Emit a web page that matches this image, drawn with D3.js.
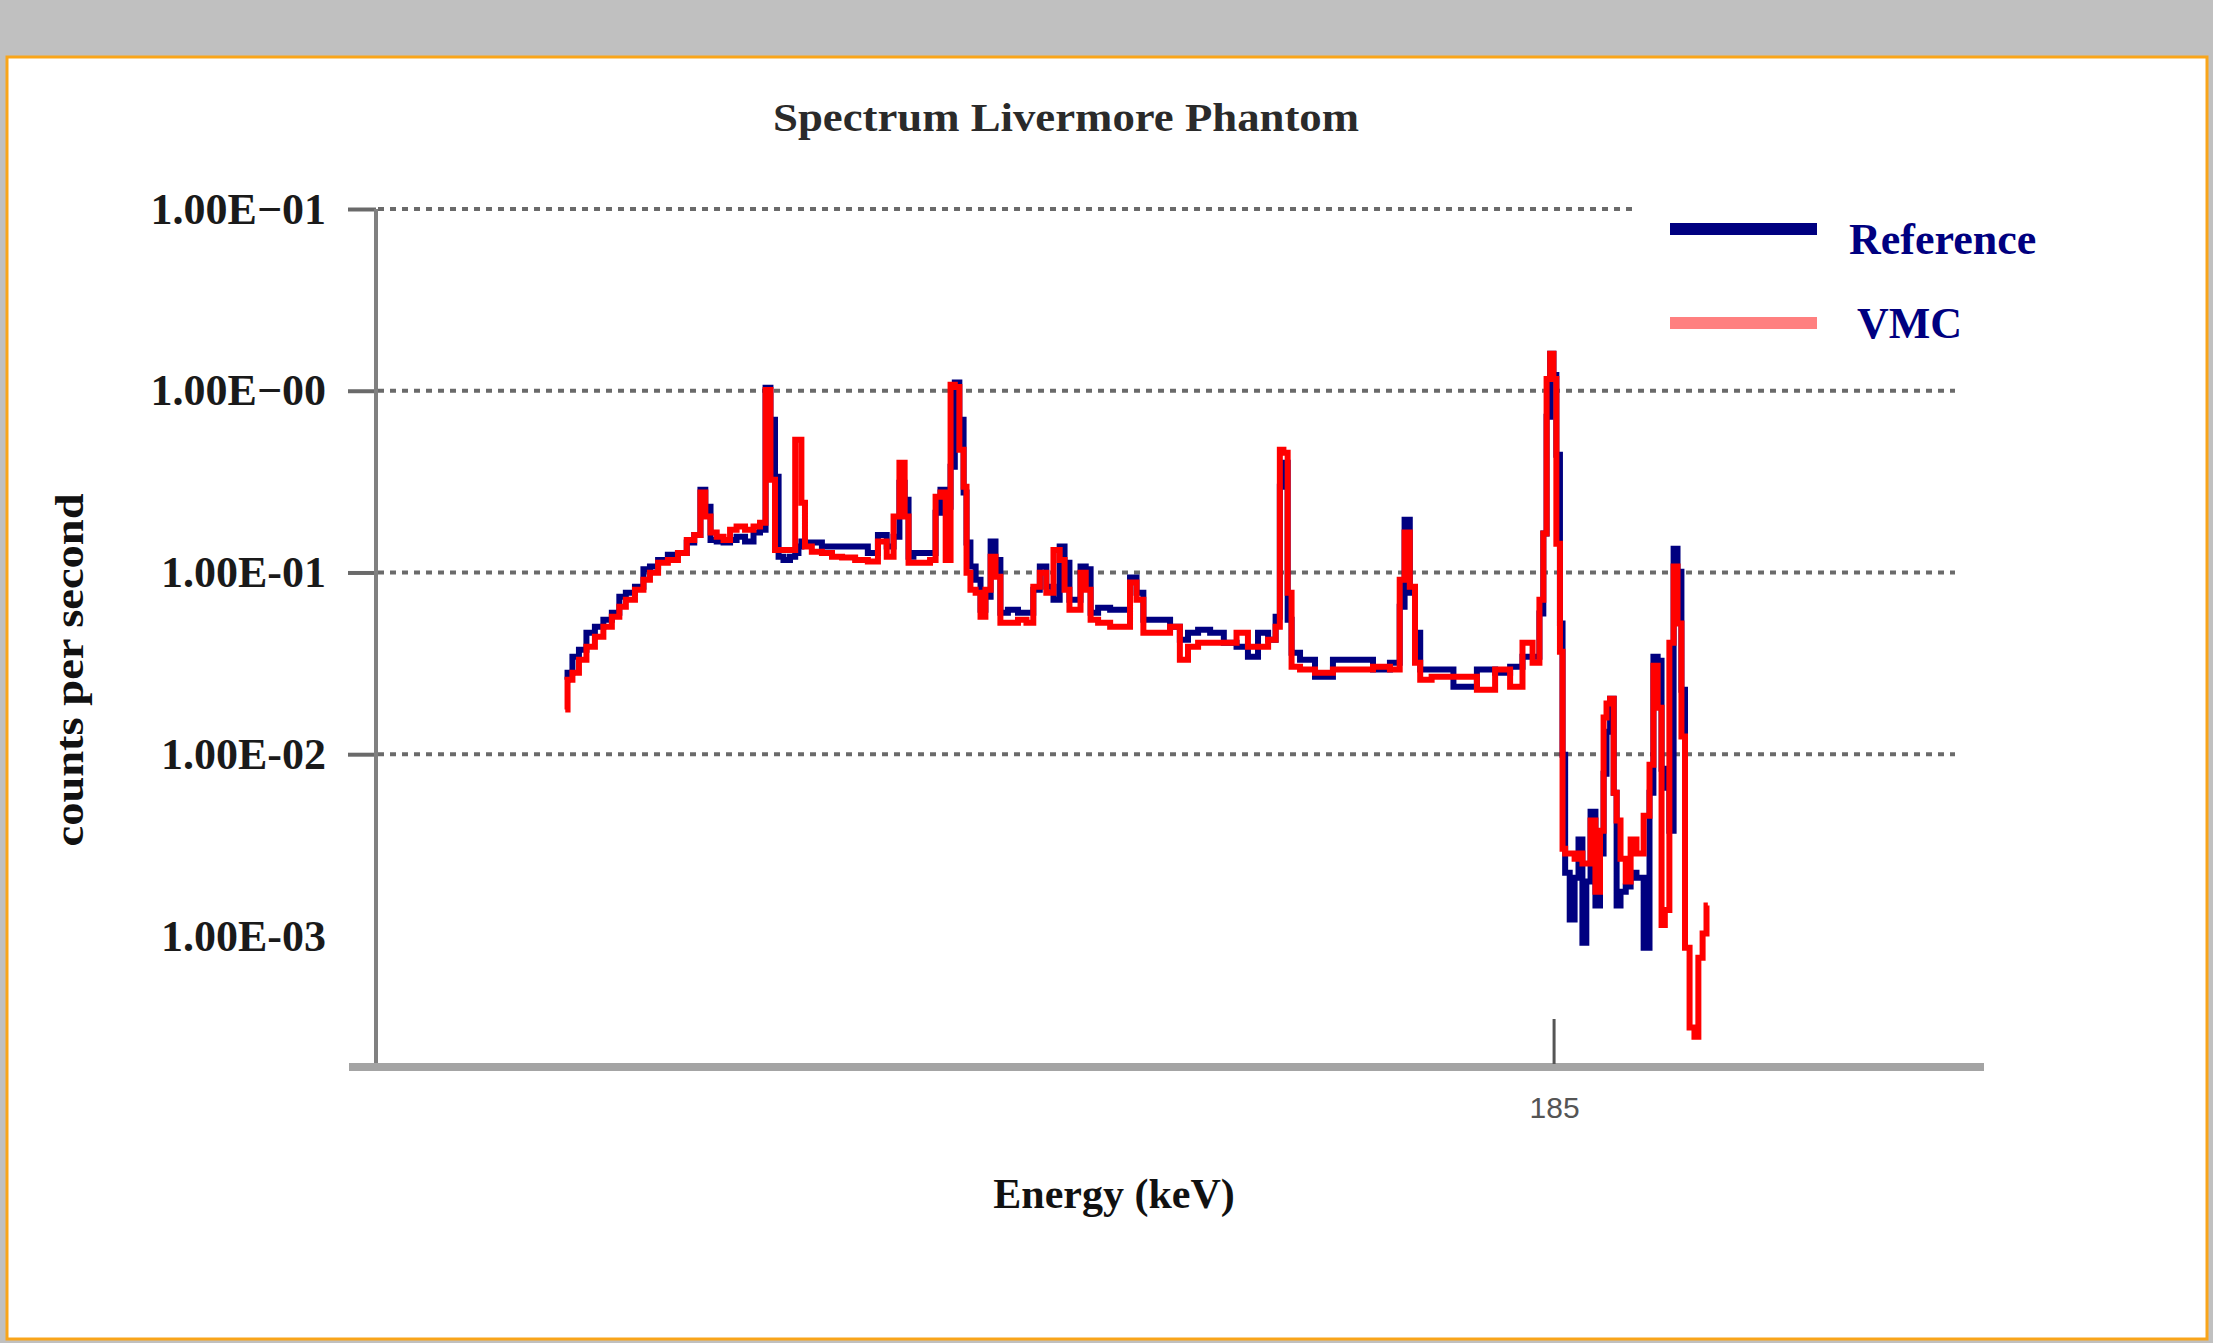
<!DOCTYPE html>
<html>
<head>
<meta charset="utf-8">
<script src="https://cdn.jsdelivr.net/npm/d3@7"></script>
<style>
  body { margin: 0; background: #c0c0c0; }
  svg { display: block; }
  .serif { font-family: "Liberation Serif", "Times New Roman", serif; font-weight: bold; }
</style>
</head>
<body>
<svg id="chart" width="2213" height="1343"></svg>
<script>
// energy (keV) of each sampled channel
const energy = [
  33.2, 33.9, 34.7, 35.9, 37.0, 38.5, 39.6, 41.1, 41.9, 43.1, 44.7, 45.7, 46.7, 48.2, 49.7, 51.3,
  52.4, 53.6, 54.3, 55.1, 55.9, 57.0, 58.0, 59.0, 60.0, 61.6, 62.6, 63.6, 64.3, 65.1, 65.7, 66.2,
  67.2, 68.2, 68.8, 69.2, 69.7, 70.3, 71.8, 73.4, 74.9, 76.5, 78.9, 80.4, 82.0, 83.1, 84.1, 84.9,
  85.7, 86.1, 87.2, 88.7, 89.7, 90.4, 91.2, 92.0, 92.7, 93.3, 94.1, 94.6, 95.0, 95.8, 96.6, 97.3,
  98.1, 98.9, 99.6, 100.4, 101.9, 103.5, 104.5, 105.6, 106.5, 107.6, 108.7, 109.5, 110.2, 111.0, 111.9, 112.7,
  113.5, 114.2, 115.8, 117.9, 119.4, 120.4, 121.4, 122.5, 125.0, 127.1, 128.0, 129.6, 131.1, 133.3, 135.3, 137.2,
  138.8, 140.3, 141.9, 142.6, 143.2, 143.7, 144.5, 144.9, 147.1, 149.5, 152.6, 155.7, 158.7, 160.9, 161.7, 162.4,
  163.3, 164.0, 164.9, 167.5, 171.6, 174.7, 177.2, 179.3, 181.0, 182.4, 183.1, 183.6, 184.1, 184.7, 185.1, 185.6,
  186.2, 186.4, 187.0, 187.8, 188.5, 189.0, 189.7, 190.2, 191.0, 191.7, 192.4, 192.8, 193.3, 193.9, 194.4, 194.8,
  195.6, 196.4, 197.1, 198.2, 199.3, 200.0, 200.5, 201.3, 201.7, 202.3, 203.1, 203.6, 204.3, 204.8, 205.4, 206.2,
  206.9, 207.4, 208.2, 208.6
];

// counts per second, measured reference spectrum
const reference = [
  0.0257, 0.0281, 0.0344, 0.0376, 0.0466, 0.0503, 0.0550, 0.0601, 0.0736, 0.0774, 0.0835, 0.104, 0.108, 0.117, 0.125, 0.128,
  0.146, 0.161, 0.285, 0.230, 0.151, 0.148, 0.146, 0.151, 0.157, 0.148, 0.166, 0.172, 1.04, 0.692, 0.336, 0.122,
  0.117, 0.122, 0.128, 0.139, 0.148, 0.146, 0.146, 0.139, 0.139, 0.139, 0.139, 0.128, 0.161, 0.139, 0.157, 0.312,
  0.251, 0.122, 0.128, 0.128, 0.128, 0.213, 0.285, 0.230, 0.382, 1.11, 0.692, 0.275, 0.146, 0.108, 0.0912, 0.0624,
  0.0736, 0.148, 0.117, 0.0601, 0.0624, 0.0601, 0.0601, 0.0804, 0.108, 0.0835, 0.0708, 0.139, 0.113, 0.0708, 0.0708, 0.108,
  0.104, 0.0601, 0.0640, 0.0624, 0.0624, 0.0937, 0.0774, 0.0550, 0.0550, 0.0503, 0.0427, 0.0466, 0.0484, 0.0466, 0.0411, 0.0390,
  0.0344, 0.0466, 0.0427, 0.0571, 0.296, 0.402, 0.0550, 0.0362, 0.0331, 0.0267, 0.0331, 0.0331, 0.0292, 0.0319, 0.0648, 0.195,
  0.0774, 0.0466, 0.0292, 0.0292, 0.0235, 0.0292, 0.0281, 0.0303, 0.0344, 0.0344, 0.0594, 0.164, 0.719, 1.60, 1.22, 0.445,
  0.0523, 0.00994, 0.00223, 0.00123, 0.00209, 0.00339, 0.000918, 0.00199, 0.00483, 0.00147, 0.00284, 0.00781, 0.0133, 0.0202, 0.00614, 0.00147,
  0.00175, 0.00187, 0.00223, 0.00209, 0.000861, 0.00614, 0.0344, 0.0327, 0.00832, 0.00654, 0.00379, 0.135, 0.101, 0.0226, 0.0119, null,
  null, null, null, null
];

// counts per second, VMC simulation
const vmc = [
  0.0176, 0.0257, 0.0281, 0.0331, 0.0390, 0.0443, 0.0503, 0.0571, 0.0648, 0.0708, 0.0804, 0.0912, 0.0997, 0.113, 0.117, 0.128,
  0.151, 0.161, 0.275, 0.203, 0.166, 0.157, 0.151, 0.172, 0.179, 0.172, 0.179, 0.188, 1.01, 0.324, 0.133, 0.133,
  0.133, 0.133, 0.538, 0.538, 0.242, 0.139, 0.130, 0.128, 0.122, 0.121, 0.117, 0.115, 0.148, 0.122, 0.203, 0.402,
  0.203, 0.113, 0.113, 0.113, 0.117, 0.261, 0.275, 0.117, 1.08, 1.05, 0.473, 0.296, 0.0997, 0.0804, 0.0774, 0.0571,
  0.0804, 0.122, 0.0948, 0.0529, 0.0529, 0.0550, 0.0529, 0.0835, 0.0997, 0.0774, 0.133, 0.117, 0.0804, 0.0624, 0.0624, 0.0997,
  0.0804, 0.0550, 0.0529, 0.0503, 0.0503, 0.0880, 0.0708, 0.0466, 0.0466, 0.0503, 0.0331, 0.0390, 0.0411, 0.0411, 0.0411, 0.0466,
  0.0390, 0.0390, 0.0427, 0.0503, 0.473, 0.456, 0.0774, 0.0303, 0.0292, 0.0281, 0.0292, 0.0292, 0.0303, 0.0292, 0.0912, 0.166,
  0.0835, 0.0319, 0.0257, 0.0267, 0.0267, 0.0226, 0.0292, 0.0235, 0.0411, 0.0319, 0.0708, 0.164, 1.16, 1.60, 1.16, 0.144,
  0.0366, 0.00302, 0.00284, 0.00284, 0.00266, 0.00284, 0.00250, 0.00250, 0.00431, 0.00175, 0.00379, 0.0159, 0.0190, 0.0202, 0.00614, 0.00431,
  0.00266, 0.00199, 0.00339, 0.00284, 0.00459, 0.00875, 0.0307, 0.0180, 0.00115, 0.00139, 0.0411, 0.108, 0.0523, 0.0125, 0.000861, 0.000313,
  0.000279, 0.000759, 0.00103, 0.00147
];

const yTickValues = [10, 1, 0.1, 0.01, 0.001];
const yTickLabels = ["1.00E\u221201", "1.00E\u221200", "1.00E-01", "1.00E-02", "1.00E-03"];
const xTickValues = [185];
const seriesNames = ["Reference", "VMC"];

const svg = d3.select("#chart");

// background frame
svg.append("rect").attr("x", 0).attr("y", 0).attr("width", 2213).attr("height", 1343).attr("fill", "#c0c0c0");
svg.append("rect")
  .attr("x", 7).attr("y", 57).attr("width", 2200).attr("height", 1282)
  .attr("fill", "#fff").attr("stroke", "#f9a51a").attr("stroke-width", 3);

const x = d3.scaleLinear().domain([0, 251]).range([349, 1984]);
const y = d3.scaleLog().domain([1.9e-4, 10]).range([1067, 209]);
const axisX = 376;

// gridlines (none for the lowest label)
svg.append("g")
  .selectAll("line")
  .data(yTickValues.slice(0, 4))
  .enter()
  .append("line")
  .attr("x1", axisX + 2)
  .attr("x2", 1955)
  .attr("y1", d => y(d))
  .attr("y2", d => y(d))
  .attr("stroke", "#6a6a6a")
  .attr("stroke-width", 4)
  .attr("stroke-dasharray", "6,6");

// y axis
const yAxis = svg.append("g")
  .attr("transform", `translate(${axisX},0)`)
  .call(
    d3.axisLeft(y)
      .tickValues(yTickValues)
      .tickFormat((d, i) => yTickLabels[i])
      .tickSize(28)
      .tickPadding(22)
  );
yAxis.select(".domain").remove();
yAxis.selectAll(".tick line").attr("stroke", "#6a6a6a").attr("stroke-width", 4);
yAxis.selectAll(".tick:last-child line").remove();
yAxis.selectAll(".tick text")
  .attr("class", "serif")
  .attr("font-size", 44)
  .attr("fill", "#1a1a1a");
svg.append("line")
  .attr("x1", axisX).attr("x2", axisX)
  .attr("y1", y(10)).attr("y2", 1067)
  .attr("stroke", "#808080").attr("stroke-width", 4);

// x axis
svg.append("line")
  .attr("x1", 349).attr("x2", 1984)
  .attr("y1", 1067).attr("y2", 1067)
  .attr("stroke", "#a4a4a4").attr("stroke-width", 8);
const xAxis = svg.append("g")
  .attr("transform", "translate(0,1067)")
  .call(d3.axisBottom(x).tickValues(xTickValues).tickFormat(d3.format("d")).tickSize(0).tickPadding(30));
xAxis.select(".domain").remove();
xAxis.selectAll(".tick text")
  .attr("font-family", "Liberation Sans, Arial, sans-serif")
  .attr("font-size", 30)
  .attr("fill", "#555");
svg.append("g")
  .selectAll("line")
  .data(xTickValues)
  .enter()
  .append("line")
  .attr("x1", d => x(d)).attr("x2", d => x(d))
  .attr("y1", 1019).attr("y2", 1064)
  .attr("stroke", "#555").attr("stroke-width", 3);

// series, drawn as a histogram-like step line
const line = d3.line()
  .defined(d => d[1] != null)
  .curve(d3.curveStep)
  .x(d => x(d[0]))
  .y(d => y(d[1]));

svg.append("path")
  .datum(energy.map((e, i) => [e, reference[i]]))
  .attr("fill", "none")
  .attr("stroke", "#000080")
  .attr("stroke-width", 6)
  .attr("d", line);

svg.append("path")
  .datum(energy.map((e, i) => [e, vmc[i]]))
  .attr("fill", "none")
  .attr("stroke", "#ff0000")
  .attr("stroke-width", 6)
  .attr("d", line);

// title and axis titles
svg.append("text")
  .attr("class", "serif")
  .attr("x", 1066).attr("y", 131)
  .attr("text-anchor", "middle")
  .attr("font-size", 40)
  .attr("fill", "#2a2a2a")
  .attr("textLength", 586)
  .attr("lengthAdjust", "spacingAndGlyphs")
  .text("Spectrum Livermore Phantom");

svg.append("text")
  .attr("class", "serif")
  .attr("x", 1114).attr("y", 1208)
  .attr("text-anchor", "middle")
  .attr("font-size", 42)
  .attr("fill", "#111")
  .text("Energy (keV)");

svg.append("text")
  .attr("class", "serif")
  .attr("transform", "translate(83,670) rotate(-90)")
  .attr("text-anchor", "middle")
  .attr("font-size", 40)
  .attr("fill", "#111")
  .attr("textLength", 353)
  .attr("lengthAdjust", "spacingAndGlyphs")
  .text("counts per second");

// legend
const legend = svg.append("g");
legend.append("rect")
  .attr("x", 1632).attr("y", 180).attr("width", 440).attr("height", 180)
  .attr("fill", "#fff");
const legendColors = ["#000080", "#ff8080"];
const legendY = [229, 323];
const legendTextX = [1849, 1857];
const legendBase = [254, 338];
seriesNames.forEach((name, i) => {
  legend.append("line")
    .attr("x1", 1670).attr("x2", 1817)
    .attr("y1", legendY[i]).attr("y2", legendY[i])
    .attr("stroke", legendColors[i])
    .attr("stroke-width", 12);
  legend.append("text")
    .attr("class", "serif")
    .attr("x", legendTextX[i]).attr("y", legendBase[i])
    .attr("font-size", 44)
    .attr("fill", "#000080")
    .text(name);
});
</script>
</body>
</html>
